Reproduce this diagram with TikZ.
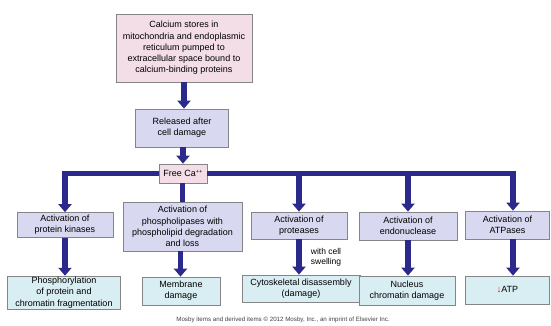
\documentclass[tikz,border=0pt]{standalone}
\usepackage{fontspec}
\setmainfont{Liberation Sans}
\usetikzlibrary{arrows.meta,calc}
\definecolor{pinkfill}{HTML}{F3DDE6}
\definecolor{lavfill}{HTML}{D8D8F0}
\definecolor{cyanfill}{HTML}{D9EEF3}
\definecolor{boxborder}{HTML}{858585}
\definecolor{arrowblue}{HTML}{2B2A8C}
\begin{document}
\begin{tikzpicture}[x=1pt,y=-1pt,
  box/.style={draw=boxborder,line width=0.7pt,align=center,inner sep=1pt,
    font=\fontsize{9}{11.2}\selectfont},
  pinkbox/.style={box,fill=pinkfill},
  lavbox/.style={box,fill=lavfill},
  cyanbox/.style={box,fill=cyanfill},
  arr/.style={draw=arrowblue,line width=5.5pt,-{Triangle[width=13pt,length=8pt]}},
  bar/.style={draw=arrowblue,line width=5.5pt}]
\useasboundingbox (0,0) rectangle (551,326);

\node[pinkbox,minimum width=136pt,minimum height=68pt] (top) at (184,48)
  {Calcium stores in\\mitochondria and endoplasmic\\reticulum pumped to\\extracellular space bound to\\calcium-binding proteins};
\node[lavbox,minimum width=93pt,minimum height=38pt] (rel) at (182,128)
  {Released after\\cell damage};
\node[pinkbox,minimum width=48pt,minimum height=19pt] (ca) at (183,173.5)
  {Free Ca\textsuperscript{\fontsize{5.5}{6}\selectfont ++}};

\node[lavbox,minimum width=96pt,minimum height=25pt] (pk) at (65,225)
  {Activation of\\protein kinases};
\node[lavbox,minimum width=119pt,minimum height=49pt] (pl) at (182.5,226.5)
  {Activation of\\phospholipases with\\phospholipid degradation\\and loss};
\node[lavbox,minimum width=96pt,minimum height=27pt] (pr) at (299,225.5)
  {Activation of\\proteases};
\node[lavbox,minimum width=98pt,minimum height=28pt] (en) at (408,226)
  {Activation of\\endonuclease};
\node[lavbox,minimum width=84pt,minimum height=28pt] (at) at (507.5,225)
  {Activation of\\ATPases};

\node[cyanbox,minimum width=113pt,minimum height=31pt] (b1) at (64,292.5)
  {Phosphorylation\\of protein and\\chromatin fragmentation};
\node[cyanbox,minimum width=78pt,minimum height=28pt] (b2) at (181,291)
  {Membrane\\damage};
\node[cyanbox,minimum width=118pt,minimum height=27pt] (b3) at (301,288.5)
  {Cytoskeletal disassembly\\(damage)};
\node[cyanbox,minimum width=96pt,minimum height=29pt] (b4) at (407,290.5)
  {Nucleus\\chromatin damage};
\node[cyanbox,minimum width=84pt,minimum height=28pt] (b5) at (507.5,290)
  {\textcolor{red}{↓}ATP};

\node[align=right,inner sep=0pt,font=\fontsize{8.5}{10}\selectfont] (sw) at (326,257)
  {with cell\\swelling};

\node[inner sep=0pt,font=\fontsize{6.2}{7}\selectfont,text=black!75] (copy) at (283,320)
  {Mosby items and derived items © 2012 Mosby, Inc., an imprint of Elsevier Inc.};

% arrows
\draw[arr] (top.south) -- (top.south |- rel.north);
\draw[arr] (rel.south -| ca.north) -- (ca.north);
\draw[arr] (ca.west) -| (pk.north);
\draw[arr] (ca.east) -| ([xshift=5.5pt]at.north);
\draw[arr] (pr.north |- ca.east) -- (pr.north);
\draw[arr] (en.north |- ca.east) -- (en.north);
\draw[bar] (ca.south -| pl.north) -- (pl.north);

\draw[arr] (pk.south) -- (pk.south |- b1.north);
\draw[arr] ([xshift=-2pt]pl.south) -- ([xshift=-2pt]pl.south |- b2.north);
\draw[arr] (pr.south) -- (pr.south |- b3.north);
\draw[arr] (en.south) -- (en.south |- b4.north);
\draw[arr] ([xshift=5.5pt]at.south) -- ([xshift=5.5pt]at.south |- b5.north);
\end{tikzpicture}
\end{document}
